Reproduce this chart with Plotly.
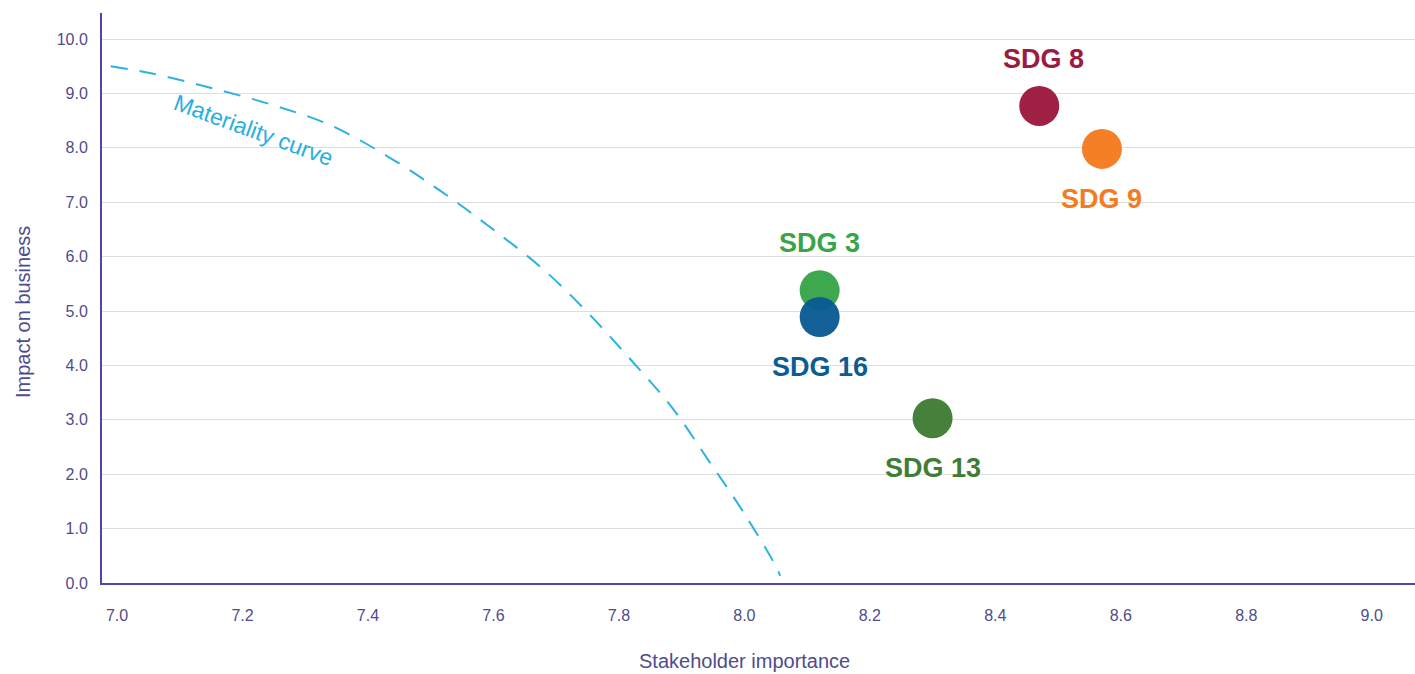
import plotly.graph_objects as go

# ---- data ----
sdg_names = ["SDG 8", "SDG 9", "SDG 3", "SDG 16", "SDG 13"]
stakeholder_importance = [8.47, 8.57, 8.12, 8.12, 8.30]
impact_on_business = [8.77, 7.98, 5.38, 4.89, 3.03]
sdg_colors = ["#9c1b40", "#f47b20", "#38a548", "#0b5c93", "#3f7d35"]
label_above = [True, False, True, False, False]

curve_x = [6.990, 7.054, 7.150, 7.250, 7.341, 7.433, 7.519, 7.597, 7.680,
           7.752, 7.820, 7.885, 7.943, 7.998, 8.051, 8.057]
curve_y = [9.50, 9.37, 9.10, 8.78, 8.41, 7.83, 7.18, 6.52, 5.76,
           4.95, 4.09, 3.22, 2.25, 1.31, 0.29, 0.13]
curve_label = "Materiality curve"

x_ticks = [7.0, 7.2, 7.4, 7.6, 7.8, 8.0, 8.2, 8.4, 8.6, 8.8, 9.0]
y_ticks = [0, 1, 2, 3, 4, 5, 6, 7, 8, 9, 10]

FONT = "Liberation Sans, Arial, Helvetica, sans-serif"
AXIS_COLOR = "#4c45b2"
TICK_COLOR = "#4e4c8c"

fig = go.Figure()

fig.add_trace(go.Scatter(
    x=curve_x, y=curve_y, mode="lines",
    line=dict(color="#2eb2e0", width=2, dash="17px,12px", shape="spline"),
    hoverinfo="skip", showlegend=False,
))

for name, xv, yv, col in zip(sdg_names, stakeholder_importance, impact_on_business, sdg_colors):
    fig.add_trace(go.Scatter(
        x=[xv], y=[yv], mode="markers", name=name,
        marker=dict(size=40, color=col, opacity=0.97, line=dict(width=0)),
        showlegend=False,
    ))

annotations = []
for name, xv, yv, col, above in zip(sdg_names, stakeholder_importance, impact_on_business, sdg_colors, label_above):
    annotations.append(dict(
        x=xv, y=yv, xref="x", yref="y", text="<b>" + name + "</b>",
        showarrow=False, yshift=47 if above else -50,
        xshift=4 if name == "SDG 8" else 0,
        xanchor="center", yanchor="middle",
        font=dict(family=FONT, size=27, color=col),
    ))

annotations.append(dict(
    x=7.217, y=8.33, xref="x", yref="y", text=curve_label, showarrow=False,
    textangle=20, xanchor="center", yanchor="middle",
    font=dict(family=FONT, size=23, color="#2aaee0"),
))

annotations.append(dict(
    x=(744 - 102) / (1415 - 102), y=-(661 - 583) / (583 - 13),
    xref="paper", yref="paper", xanchor="center", yanchor="middle",
    text="Stakeholder importance", showarrow=False,
    font=dict(family=FONT, size=20, color=TICK_COLOR),
))
annotations.append(dict(
    x=-(102 - 23) / (1415 - 102), y=1 - (312 - 13) / (583 - 13),
    xref="paper", yref="paper", xanchor="center", yanchor="middle",
    text="Impact on business", showarrow=False, textangle=-90,
    font=dict(family=FONT, size=20, color=TICK_COLOR),
))

fig.update_layout(
    width=1415, height=674,
    margin=dict(l=102, r=0, t=13, b=91),
    paper_bgcolor="white", plot_bgcolor="white",
    font=dict(family=FONT, color=TICK_COLOR),
    annotations=annotations,
    xaxis=dict(
        range=[6.976, 9.069], tickvals=x_ticks, tickformat=".1f",
        showgrid=False, zeroline=False,
        showline=True, linecolor=AXIS_COLOR, linewidth=2,
        ticks="", ticklabelstandoff=17,
        tickfont=dict(family=FONT, size=16, color=TICK_COLOR),
    ),
    yaxis=dict(
        range=[0, 10.478], tickvals=y_ticks, tickformat=".1f",
        showgrid=True, gridcolor="#dedede", gridwidth=1, zeroline=False,
        showline=True, linecolor=AXIS_COLOR, linewidth=2,
        ticks="", ticklabelstandoff=9,
        tickfont=dict(family=FONT, size=16, color=TICK_COLOR),
    ),
)

fig.write_html(
    "out.html",
    config={"displayModeBar": False},
    post_script="document.body.style.margin='0';document.body.style.overflow='hidden';",
)
